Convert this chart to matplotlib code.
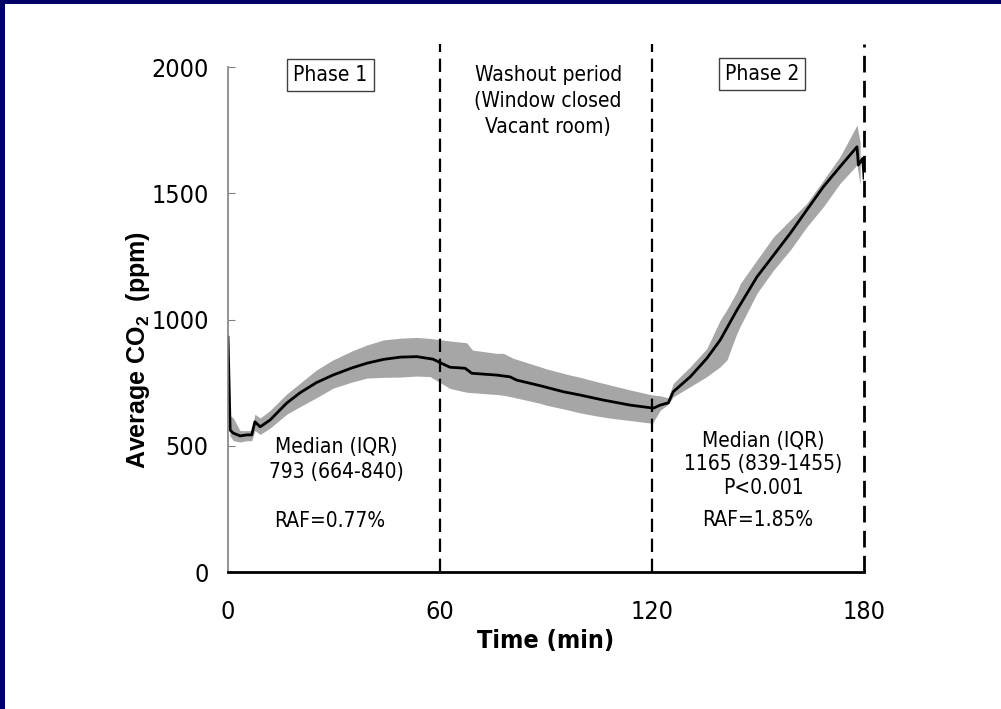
import matplotlib
matplotlib.use('Agg')
import matplotlib.pyplot as plt
from matplotlib.patches import Rectangle

plt.rcParams['font.family'] = ['DejaVu Sans']
plt.rcParams['font.stretch'] = 'condensed'
plt.rcParams['mathtext.fontset'] = 'custom'
plt.rcParams['mathtext.rm'] = 'Liberation Sans'
plt.rcParams['mathtext.bf'] = 'Liberation Sans:bold'

# median CO2 curve (min, ppm)
time_min = [0, 0.6, 1.5, 3.4, 5.3, 6.7, 7.6, 9.1, 11.9, 16.6, 20.4, 25, 29.7, 35, 39.3,
            44, 48.7, 53.4, 58, 60.5, 62.8, 67.1, 69, 76, 79.8, 81.7, 88.3, 94.9, 99.6,
            106.2, 113.8, 120.4, 122.3, 124.6, 126, 130.8, 135.5, 139.3, 144, 149.7,
            154.4, 159.1, 163.8, 168.5, 173.2, 178, 178.4, 179.6, 180]
co2_median = [930, 562, 550, 539, 543, 543, 595, 575, 602, 669, 710, 750, 780, 808, 827,
              842, 851, 853, 843, 826, 811, 807, 787, 780, 773, 760, 738, 714, 701,
              681, 661, 649, 661, 670, 714, 773, 846, 919, 1037, 1169,
              1255, 1341, 1434, 1526, 1605, 1684, 1612, 1638, 1560]

# interquartile band
band_t = [0.5, 1.5, 3.4, 5.3, 6.7, 7.6, 9.1, 11.9, 16.6, 20.4, 25, 29.7, 35, 39.3, 44,
          48.7, 53.4, 57.2, 62.8, 67.5, 69.2, 76, 77.9, 80.8, 88.3, 90, 96.8, 99.4,
          104.3, 108.9, 113.8, 120.1, 122.3, 124.6, 126, 130.8, 135.5, 139.3, 141.2,
          144, 145, 149.7, 154.4, 159.1, 163.8, 168.5, 173.2, 178, 178.9]
band_lower = [540, 520, 515, 520, 520, 560, 545, 570, 625, 655, 690, 728, 752, 768, 771,
              772, 776, 774, 727, 712, 710, 703, 700, 692, 668, 661, 640, 631,
              618, 608, 600, 589, 640, 665, 694, 734, 774, 813, 840,
              945, 975, 1104, 1196, 1275, 1367, 1447, 1539, 1612, 1533]
band_upper = [620, 610, 560, 560, 560, 625, 610, 640, 705, 748, 800, 840, 875, 899, 919,
              926, 929, 925, 915, 908, 879, 866, 866, 846, 813, 805, 780, 772,
              754, 738, 721, 701, 698, 690, 747, 813, 885, 998, 1040,
              1110, 1143, 1236, 1328, 1394, 1460, 1552, 1645, 1770, 1700]

phase_bounds = [60, 120, 180]
x_ticks = [0, 60, 120, 180]
y_ticks = [0, 500, 1000, 1500, 2000]

fig = plt.figure(figsize=(10.01, 7.09), dpi=100)
ax = fig.add_axes([0.2278, 0.1932, 0.6354, 0.7123])

ax.fill_between(band_t, band_lower, band_upper, color='#a6a6a6', lw=0)
ax.plot(time_min, co2_median, color='black', lw=2)

for xb in phase_bounds:
    ax.plot([xb, xb], [0, 2090], color='black', lw=1.6 if xb < 180 else 2,
            linestyle=(0, (6, 3)), clip_on=False, zorder=3)

ax.set_xlim(0, 180)
ax.set_ylim(0, 2000)
ax.set_xticks(x_ticks)
ax.set_yticks(y_ticks)
ax.tick_params(axis='x', length=0, pad=20, labelsize=18)
ax.tick_params(axis='y', direction='in', length=5, color='#808080', pad=14, labelsize=18)

for s in ['top', 'right']:
    ax.spines[s].set_visible(False)
ax.spines['left'].set_color('#808080')
ax.spines['left'].set_linewidth(1.2)
ax.spines['bottom'].set_linewidth(2)

ax.set_xlabel('Time (min)', fontsize=18, fontweight='bold')
ax.xaxis.set_label_coords(0.5, -0.112)
ax.set_ylabel(r'Average CO$_\mathbf{2}$  (ppm)', fontsize=18, fontweight='bold',
              family='Liberation Sans', fontstretch='normal')
ax.yaxis.set_label_coords(-0.12, 0.44)

box = dict(boxstyle='square,pad=0.3', fc='white', ec='#404040', lw=1)
ax.text(28.9, 1968, 'Phase 1', fontsize=15, ha='center', va='center', bbox=box)
ax.text(151.1, 1972, 'Phase 2', fontsize=15, ha='center', va='center', bbox=box)
ax.text(90.6, 1865, 'Washout period\n(Window closed\nVacant room)', fontsize=15,
        ha='center', va='center', linespacing=1.38)

ax.text(30.6, 445, 'Median (IQR)\n793 (664-840)', fontsize=15, ha='center', va='center',
        linespacing=1.35)
ax.text(28.9, 202, 'RAF=0.77%', fontsize=15, ha='center', va='center')
ax.text(151.4, 426, 'Median (IQR)\n1165 (839-1455)\nP<0.001', fontsize=15, ha='center',
        va='center', linespacing=1.2)
ax.text(150, 206, 'RAF=1.85%', fontsize=15, ha='center', va='center')

# navy frame edges
fig.add_artist(Rectangle((0, 1 - 4 / 709), 1, 4 / 709, transform=fig.transFigure,
                         color='#000066', lw=0))
fig.add_artist(Rectangle((0, 0), 5 / 1001, 1, transform=fig.transFigure,
                         color='#000066', lw=0))

fig.savefig('out.png', dpi=100)
